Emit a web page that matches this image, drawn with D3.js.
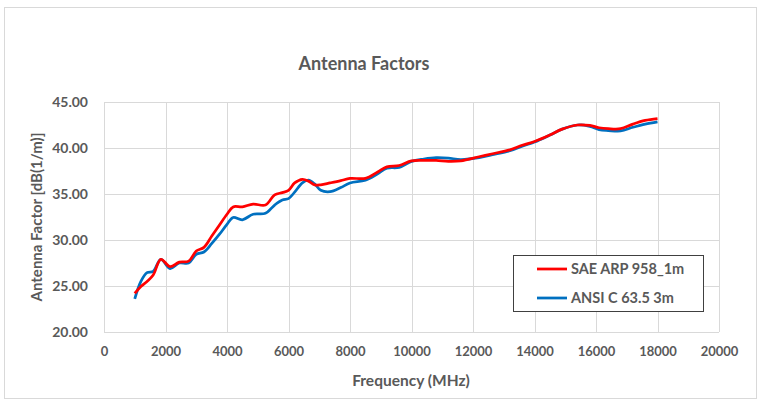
<!DOCTYPE html>
<html><head><meta charset="utf-8">
<script src="https://cdn.jsdelivr.net/npm/d3@7"></script>
<style>body{margin:0;background:#fff}svg{display:block}text{font-family:Lato,"Open Sans",sans-serif;fill:#595959}</style>
</head><body><svg id="c" width="759" height="407"></svg>
<script>
const freqs = [1000,1200,1400,1600,1850,2150,2450,2750,3000,3250,3500,3750,4000,4200,4500,4850,5250,5550,5800,6000,6200,6450,6650,6850,7050,7350,7700,8000,8500,8900,9200,9600,10000,10400,10800,11200,11600,12200,12600,13200,13600,14000,14500,14900,15400,15800,16100,16400,16800,17200,17600,18000];
const saeValues = [24.2,24.95,25.5,26.2,27.9,27.1,27.6,27.7,28.8,29.2,30.4,31.6,32.8,33.6,33.6,33.9,33.8,34.9,35.15,35.4,36.2,36.6,36.4,36.0,36.0,36.2,36.45,36.7,36.7,37.4,37.95,38.1,38.6,38.65,38.65,38.55,38.6,39.05,39.35,39.8,40.3,40.7,41.4,42.05,42.5,42.45,42.2,42.1,42.1,42.6,43.0,43.2];
const ansiValues = [23.6,25.5,26.45,26.6,27.9,26.9,27.5,27.5,28.45,28.7,29.6,30.6,31.7,32.45,32.2,32.8,32.9,33.8,34.35,34.5,35.2,36.2,36.5,36.1,35.4,35.25,35.7,36.2,36.5,37.2,37.8,37.9,38.55,38.8,38.95,38.9,38.75,38.95,39.25,39.7,40.2,40.65,41.4,42.05,42.5,42.35,42.0,41.9,41.85,42.25,42.6,42.85];
const seriesNames = ["SAE ARP 958_1m","ANSI C 63.5 3m"];
const xTicks = [0,2000,4000,6000,8000,10000,12000,14000,16000,18000,20000];
const yTicks = [20,25,30,35,40,45];
const titleText = "Antenna Factors";
const xTitle = "Frequency (MHz)";
const yTitle = "Antenna Factor [dB(1/m)]";

const svg = d3.select("#c");
svg.append("rect").attr("x",4.5).attr("y",7.5).attr("width",752).attr("height",391)
  .attr("fill","#fff").attr("stroke","#d9d9d9");

const L=104,R=719,T=102,B=332;
const x = d3.scaleLinear().domain([0,20000]).range([L,R]);
const y = d3.scaleLinear().domain([20,45]).range([B,T]);

const g = svg.append("g");
g.selectAll(".vg").data(xTicks).join("line")
  .attr("x1",d=>Math.round(x(d))+0.5).attr("x2",d=>Math.round(x(d))+0.5)
  .attr("y1",T).attr("y2",B).attr("stroke","#d9d9d9");
g.selectAll(".hg").data(yTicks).join("line")
  .attr("x1",L).attr("x2",R)
  .attr("y1",d=>Math.round(y(d))+0.5).attr("y2",d=>Math.round(y(d))+0.5).attr("stroke","#d9d9d9");

const xa = svg.append("g").attr("transform",`translate(0,${B})`)
  .call(d3.axisBottom(x).tickValues(xTicks).tickFormat(d3.format("d")).tickSize(0).tickPadding(15));
xa.select(".domain").remove();
xa.selectAll("text").attr("font-size",13).attr("font-weight","bold").style("fill","#595959").attr("font-family","Lato");
const ya = svg.append("g").attr("transform",`translate(${L},0)`)
  .call(d3.axisLeft(y).tickValues(yTicks).tickFormat(d3.format(".2f")).tickSize(0).tickPadding(16));
ya.select(".domain").remove();
ya.selectAll("text").attr("font-size",14).attr("font-weight","bold").style("fill","#595959").attr("font-family","Lato");

const line = d3.line().x((d,i)=>x(freqs[i])).y(d=>y(d)).curve(d3.curveCatmullRom.alpha(0.5));
svg.append("path").datum(ansiValues).attr("d",line).attr("fill","none").attr("stroke","#0070C0").attr("stroke-width",2.75);
svg.append("path").datum(saeValues).attr("d",line).attr("fill","none").attr("stroke","#ff0000").attr("stroke-width",2.75);

svg.append("text").attr("x",364).attr("y",70).attr("text-anchor","middle").attr("font-size",18).attr("font-weight","bold").text(titleText);
svg.append("text").attr("x",411).attr("y",386).attr("text-anchor","middle").attr("font-size",15.5).attr("font-weight","bold").text(xTitle);
svg.append("text").attr("transform","translate(42,217) rotate(-90)").attr("text-anchor","middle").attr("font-size",15).attr("font-weight","bold").text(yTitle);

const lg = svg.append("g");
lg.append("rect").attr("x",513.5).attr("y",255.5).attr("width",190).attr("height",56).attr("fill","#fff").attr("stroke","#404040");
const colors=["#ff0000","#0070C0"];
seriesNames.forEach((n,i)=>{
  const yy = 269 + i*29;
  lg.append("line").attr("x1",537).attr("x2",567).attr("y1",yy).attr("y2",yy).attr("stroke",colors[i]).attr("stroke-width",2.75);
  lg.append("text").attr("x",571).attr("y",yy+5).attr("font-size",14.5).attr("font-weight","bold").text(n);
});
</script></body></html>
